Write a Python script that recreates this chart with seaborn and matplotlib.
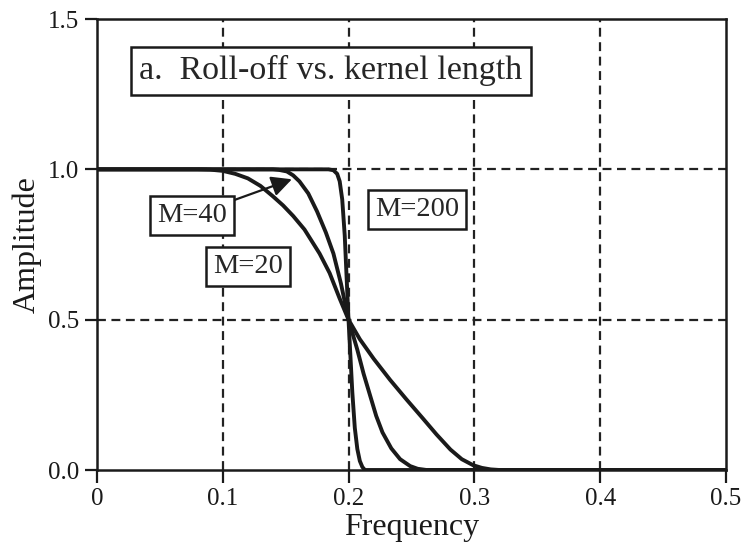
import matplotlib
matplotlib.use("Agg")
import matplotlib.pyplot as plt
import seaborn as sns
import pandas as pd

# ---- data ----
freq_m20 = [0.0, 0.08, 0.09, 0.10, 0.11, 0.12, 0.13, 0.14, 0.148, 0.156, 0.165, 0.177, 0.185, 0.193,
            0.200, 0.209, 0.220, 0.233, 0.246, 0.259, 0.270, 0.281, 0.290, 0.299, 0.306, 0.313, 0.320, 0.5]
amp_m20 = [1.0, 1.0, 0.999, 0.995, 0.985, 0.97, 0.945, 0.91, 0.88, 0.845, 0.80, 0.72, 0.655, 0.57,
           0.50, 0.435, 0.37, 0.30, 0.235, 0.172, 0.118, 0.068, 0.036, 0.016, 0.007, 0.002, 0.0, 0.0]

freq_m40 = [0.0, 0.14, 0.145, 0.151, 0.156, 0.161, 0.168, 0.175, 0.182, 0.188, 0.194, 0.200,
            0.207, 0.212, 0.217, 0.222, 0.227, 0.234, 0.241, 0.249, 0.255, 0.262, 0.5]
amp_m40 = [1.0, 1.0, 0.998, 0.993, 0.98, 0.96, 0.92, 0.86, 0.79, 0.72, 0.62, 0.50,
           0.40, 0.32, 0.25, 0.18, 0.125, 0.072, 0.036, 0.013, 0.004, 0.0, 0.0]

freq_m200 = [0.0, 0.184, 0.188, 0.191, 0.193, 0.195, 0.197, 0.200, 0.203, 0.205, 0.207, 0.209, 0.211, 0.213, 0.5]
amp_m200 = [1.0, 1.0, 0.997, 0.985, 0.96, 0.90, 0.78, 0.50, 0.26, 0.14, 0.07, 0.03, 0.01, 0.0, 0.0]

series_labels = ["M=20", "M=40", "M=200"]
x_ticks = [0, 0.1, 0.2, 0.3, 0.4, 0.5]
x_tick_labels = ["0", "0.1", "0.2", "0.3", "0.4", "0.5"]
y_ticks = [0.0, 0.5, 1.0, 1.5]
y_tick_labels = ["0.0", "0.5", "1.0", "1.5"]
title_text = "a.  Roll-off vs. kernel length"
x_label = "Frequency"
y_label = "Amplitude"

df = pd.concat([
    pd.DataFrame({"freq": freq_m20, "amp": amp_m20, "M": series_labels[0]}),
    pd.DataFrame({"freq": freq_m40, "amp": amp_m40, "M": series_labels[1]}),
    pd.DataFrame({"freq": freq_m200, "amp": amp_m200, "M": series_labels[2]}),
], ignore_index=True)

sns.set_style("ticks")
plt.rcParams["font.family"] = ["Liberation Serif", "DejaVu Serif"]

fig = plt.figure(figsize=(7.45, 5.51), dpi=100)
ax = fig.add_axes([0.130, 0.147, 0.8445, 0.8185])

# grid
for xv in x_ticks[1:-1]:
    ax.axvline(xv, color="#222222", lw=1.6, ls=(0, (4, 2.5)), zorder=1)
for yv in y_ticks[1:-1]:
    ax.axhline(yv, color="#222222", lw=1.6, ls=(0, (4, 2.5)), zorder=1)

sns.lineplot(data=df, x="freq", y="amp", units="M", estimator=None,
             color="#1a1a1a", lw=2.8, ax=ax, zorder=3, sort=False)

ax.set_xlim(0, 0.5)
ax.set_ylim(0, 1.5)
ax.set_xticks(x_ticks)
ax.set_xticklabels(x_tick_labels)
ax.set_yticks(y_ticks)
ax.set_yticklabels(y_tick_labels)
ax.tick_params(direction="out", length=9, width=1.6, labelsize=18, colors="#1a1a1a", pad=4)
for s in ax.spines.values():
    s.set_linewidth(1.8)
    s.set_color("#1a1a1a")
ax.set_xlabel(x_label, fontsize=23, color="#1a1a1a", labelpad=2)
ax.set_ylabel(y_label, fontsize=23, color="#1a1a1a", labelpad=4)

box = dict(boxstyle="square,pad=0.25", fc="white", ec="#1a1a1a", lw=1.8)
ax.text(0.186, 1.328, title_text, fontsize=24.5, ha="center", va="center",
        bbox=dict(boxstyle="square,pad=0.25", fc="white", ec="#1a1a1a", lw=1.8), zorder=5)
ax.annotate(series_labels[1], xy=(0.155, 0.967), xytext=(0.0755, 0.847),
            fontsize=20.5, ha="center", va="center", bbox=box, zorder=5,
            arrowprops=dict(arrowstyle="-|>,head_length=0.6,head_width=0.3",
                            color="#1a1a1a", lw=1.6, shrinkA=0, shrinkB=0))
ax.text(0.120, 0.677, series_labels[0], fontsize=20.5, ha="center", va="center", bbox=box, zorder=5)
ax.text(0.2544, 0.867, series_labels[2], fontsize=20.5, ha="center", va="center", bbox=box, zorder=5)

fig.savefig("out.png", dpi=100)
